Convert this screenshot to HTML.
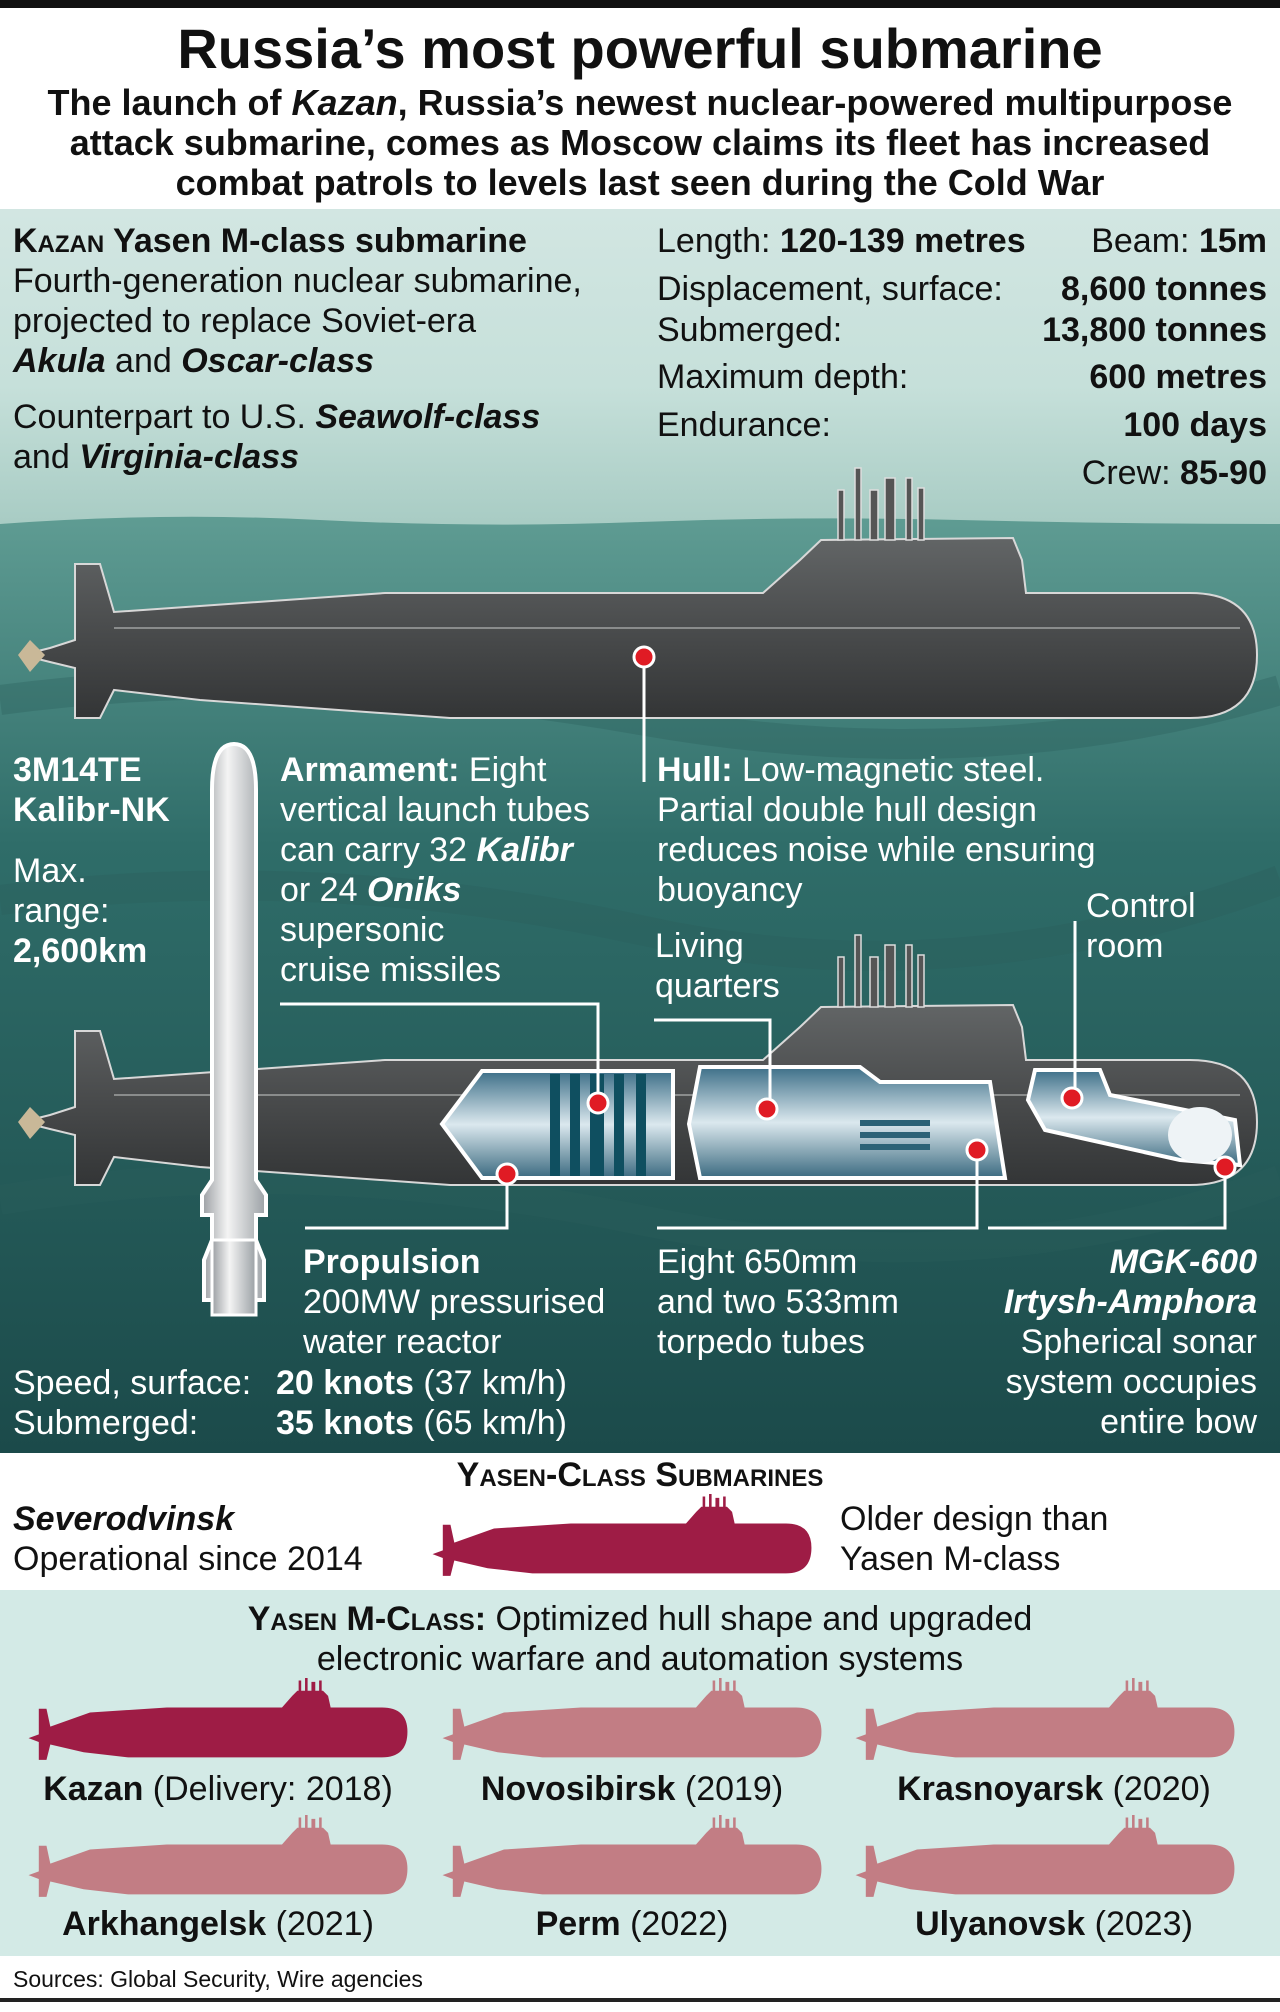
<!DOCTYPE html>
<html><head><meta charset="utf-8"><style>
*{margin:0;padding:0;box-sizing:border-box}
body{width:1280px;height:2012px;position:relative;background:#fff;font-family:"Liberation Sans Narrow","Liberation Sans",sans-serif;color:#111;overflow:hidden}
svg{position:absolute;left:0;top:0}
.t{position:absolute;font-size:34px;line-height:40px;white-space:nowrap}
.w{color:#fff}
b{font-weight:bold}
.sc{font-variant:small-caps}
</style></head><body>
<svg width="1280" height="2012" viewBox="0 0 1280 2012">
<defs>
<linearGradient id="top" x1="0" y1="0" x2="0" y2="1"><stop offset="0" stop-color="#d2e6e2"/><stop offset="0.55" stop-color="#c6e0da"/><stop offset="1" stop-color="#a7cbc3"/></linearGradient>
<linearGradient id="sea" x1="0" y1="0" x2="0" y2="1"><stop offset="0" stop-color="#5f9c93"/><stop offset="0.35" stop-color="#2f6d69"/><stop offset="1" stop-color="#1b4a4a"/></linearGradient>
<linearGradient id="hull" x1="0" y1="0" x2="0" y2="1"><stop offset="0" stop-color="#626566"/><stop offset="0.5" stop-color="#4a4c4d"/><stop offset="1" stop-color="#333536"/></linearGradient>
<linearGradient id="cut" x1="0" y1="0" x2="0" y2="1"><stop offset="0" stop-color="#3d6f88"/><stop offset="0.5" stop-color="#dbe8ee"/><stop offset="1" stop-color="#3b6a80"/></linearGradient>
<linearGradient id="mis" x1="0" y1="0" x2="1" y2="0"><stop offset="0" stop-color="#9a9ea2"/><stop offset="0.4" stop-color="#f4f4f4"/><stop offset="1" stop-color="#9aa0a4"/></linearGradient>
<g id="big">
<path d="M22,655 L50,648 L75,640 L75,564 L100,564 L114,612 L200,606 L385,593 L763,593 L800,560 L821,540 L1013,538 L1022,560 L1026,593 L1190,593 Q1257,593 1257,655 Q1257,718 1190,718 L450,718 L200,700 L114,690 L100,718 L75,718 L75,668 L50,662 Z" fill="url(#hull)" stroke="#d8d8d8" stroke-width="2"/>
<g fill="#555" stroke="#ddd" stroke-width="1.5"><rect x="838" y="490" width="6" height="50"/><rect x="855" y="468" width="6" height="72"/><rect x="870" y="490" width="8" height="50"/><rect x="885" y="478" width="10" height="62"/><rect x="906" y="478" width="6" height="62"/><rect x="918" y="488" width="6" height="52"/></g>
<line x1="114" y1="628" x2="1240" y2="628" stroke="#8a8c8c" stroke-width="2"/>
<path d="M30,640 L45,655 L30,672 L18,655 Z" fill="#c9b898"/>
</g>
<path id="sm" d="M2,47 L10,44 L10,24 L16,24 L19,38 L50,27 L110,23 L200,23 L208,14 L212,10 L232,10 L236,14 L238,23 L278,23 Q298,23 298,42 Q298,62 278,62 L80,62 L45,58 L19,52 L16,64 L10,64 L10,50 Z M213,10 L213,2 L215,2 L215,10 Z M218,10 L218,0 L220,0 L220,10 Z M223,10 L223,3 L226,3 L226,10 Z M229,10 L229,2 L231,2 L231,10 Z"/>
</defs>
<rect x="0" y="0" width="1280" height="8" fill="#111"/>
<rect x="0" y="209" width="1280" height="320" fill="url(#top)"/>
<path d="M0,524 Q160,512 320,520 T640,522 T960,520 T1280,524 L1280,1453 L0,1453 Z" fill="url(#sea)"/>
<path d="M0,700 Q300,660 640,720 T1280,690 M0,900 Q320,860 640,930 T1280,880 M0,1200 Q300,1150 640,1220 T1280,1180" stroke="#2a5f5c" stroke-width="30" fill="none" opacity="0.35"/>
<rect x="0" y="1590" width="1280" height="366" fill="#d3eae6"/>
<rect x="0" y="1998" width="1280" height="4" fill="#222"/>
<use href="#big"/>
<use href="#big" transform="translate(0,467)"/>
<!-- cutaways -->
<polygon points="482,1071 673,1071 673,1178 482,1178 442,1124" fill="url(#cut)" stroke="#fff" stroke-width="4"/>
<g fill="#0f4f60"><rect x="550" y="1074" width="10" height="102"/><rect x="570" y="1074" width="10" height="102"/><rect x="590" y="1074" width="14" height="102"/><rect x="614" y="1074" width="10" height="102"/><rect x="636" y="1074" width="10" height="102"/></g>
<polygon points="700,1067 860,1067 880,1082 990,1082 1005,1178 700,1178 689,1124" fill="url(#cut)" stroke="#fff" stroke-width="4"/>
<g fill="#2c6276"><rect x="860" y="1120" width="70" height="6"/><rect x="860" y="1132" width="70" height="6"/><rect x="860" y="1144" width="70" height="6"/></g>
<polygon points="1035,1070 1100,1070 1110,1095 1235,1120 1240,1165 1180,1160 1045,1130 1028,1100" fill="url(#cut)" stroke="#fff" stroke-width="4"/>
<ellipse cx="1200" cy="1135" rx="32" ry="28" fill="#eef3f6"/>
<!-- missile -->
<path d="M212,790 Q212,744 234,744 Q256,744 256,790 L256,1180 L266,1195 L266,1215 L256,1215 L256,1240 L264,1260 L264,1300 L204,1300 L204,1260 L212,1240 L212,1215 L202,1215 L202,1195 L212,1180 Z" fill="url(#mis)" stroke="#fff" stroke-width="4"/>
<rect x="212" y="1240" width="44" height="75" fill="url(#mis)" stroke="#fff" stroke-width="3"/>
<!-- leaders -->
<g stroke="#fff" stroke-width="3" fill="none">
<path d="M644,657 L644,782"/>
<path d="M280,1004 L598,1004 L598,1103"/>
<path d="M654,1020 L770,1020 L770,1109"/>
<path d="M1075,921 L1075,1098"/>
<path d="M507,1174 L507,1228 L305,1228"/>
<path d="M977,1150 L977,1228 L657,1228"/>
<path d="M1225,1167 L1225,1228 L988,1228"/>
</g>
<g fill="#e01b24" stroke="#fff" stroke-width="3">
<circle cx="644" cy="657" r="10"/><circle cx="598" cy="1103" r="10"/><circle cx="507" cy="1174" r="10"/><circle cx="767" cy="1109" r="10"/><circle cx="977" cy="1150" r="10"/><circle cx="1072" cy="1098" r="10"/><circle cx="1225" cy="1167" r="10"/>
</g>
<!-- silhouettes -->
<g transform="translate(430,1494) scale(1.28)"><use href="#sm" fill="#9e1c45"/></g>
<g transform="translate(26,1678) scale(1.28)"><use href="#sm" fill="#9e1c45"/></g>
<g transform="translate(440,1678) scale(1.28)"><use href="#sm" fill="#c27d84"/></g>
<g transform="translate(853,1678) scale(1.28)"><use href="#sm" fill="#c27d84"/></g>
<g transform="translate(26,1815) scale(1.28)"><use href="#sm" fill="#c27d84"/></g>
<g transform="translate(440,1815) scale(1.28)"><use href="#sm" fill="#c27d84"/></g>
<g transform="translate(853,1815) scale(1.28)"><use href="#sm" fill="#c27d84"/></g>
</svg>

<div class="t" style="left:0;width:1280px;text-align:center;top:14px;font-size:56px;line-height:70px;font-weight:bold">Russia’s most powerful submarine</div>
<div class="t" style="left:0;width:1280px;text-align:center;top:83px;font-size:36px;line-height:40px;font-weight:bold">The launch of <i>Kazan</i>, Russia’s newest nuclear-powered multipurpose<br>attack submarine, comes as Moscow claims its fleet has increased<br>combat patrols to levels last seen during the Cold War</div>

<div class="t" style="left:13px;top:221px"><b><span class="sc">Kazan</span> Yasen M-class submarine</b><br>Fourth-generation nuclear submarine,<br>projected to replace Soviet-era<br><b><i>Akula</i></b> and <b><i>Oscar-class</i></b></div>
<div class="t" style="left:13px;top:397px">Counterpart to U.S. <b><i>Seawolf-class</i></b><br>and <b><i>Virginia-class</i></b></div>

<div class="t" style="left:657px;top:221px">Length: <b>120-139 metres</b></div>
<div class="t" style="right:13px;top:221px">Beam: <b>15m</b></div>
<div class="t" style="left:657px;top:269px">Displacement, surface:</div><div class="t" style="right:13px;top:269px"><b>8,600 tonnes</b></div>
<div class="t" style="left:657px;top:310px">Submerged:</div><div class="t" style="right:13px;top:310px"><b>13,800 tonnes</b></div>
<div class="t" style="left:657px;top:357px">Maximum depth:</div><div class="t" style="right:13px;top:357px"><b>600 metres</b></div>
<div class="t" style="left:657px;top:405px">Endurance:</div><div class="t" style="right:13px;top:405px"><b>100 days</b></div>
<div class="t" style="right:13px;top:453px">Crew: <b>85-90</b></div>

<div class="t w" style="left:13px;top:750px"><b>3M14TE<br>Kalibr-NK</b></div>
<div class="t w" style="left:13px;top:851px">Max.<br>range:<br><b>2,600km</b></div>
<div class="t w" style="left:280px;top:750px"><b>Armament:</b> Eight<br>vertical launch tubes<br>can carry 32 <b><i>Kalibr</i></b><br>or 24 <b><i>Oniks</i></b><br>supersonic<br>cruise missiles</div>
<div class="t w" style="left:657px;top:750px"><b>Hull:</b> Low-magnetic steel.<br>Partial double hull design<br>reduces noise while ensuring<br>buoyancy</div>
<div class="t w" style="left:655px;top:926px">Living<br>quarters</div>
<div class="t w" style="left:1086px;top:886px">Control<br>room</div>
<div class="t w" style="left:303px;top:1242px"><b>Propulsion</b><br>200MW pressurised<br>water reactor</div>
<div class="t w" style="left:657px;top:1242px">Eight 650mm<br>and two 533mm<br>torpedo tubes</div>
<div class="t w" style="right:23px;top:1242px;text-align:right"><b><i>MGK-600<br>Irtysh-Amphora</i></b><br>Spherical sonar<br>system occupies<br>entire bow</div>
<div class="t w" style="left:13px;top:1363px">Speed, surface:<br>Submerged:</div>
<div class="t w" style="left:276px;top:1363px"><b>20 knots</b> (37 km/h)<br><b>35 knots</b> (65 km/h)</div>

<div class="t" style="left:0;width:1280px;text-align:center;top:1455px;font-weight:bold"><span class="sc">Yasen-Class Submarines</span></div>
<div class="t" style="left:13px;top:1499px"><b><i>Severodvinsk</i></b><br>Operational since 2014</div>
<div class="t" style="left:840px;top:1499px">Older design than<br>Yasen M-class</div>
<div class="t" style="left:0;width:1280px;text-align:center;top:1599px"><b class="sc">Yasen M-Class:</b> Optimized hull shape and upgraded<br>electronic warfare and automation systems</div>
<div class="t" style="left:18px;width:400px;text-align:center;top:1769px"><b>Kazan</b> (Delivery: 2018)</div>
<div class="t" style="left:432px;width:400px;text-align:center;top:1769px"><b>Novosibirsk</b> (2019)</div>
<div class="t" style="left:854px;width:400px;text-align:center;top:1769px"><b>Krasnoyarsk</b> (2020)</div>
<div class="t" style="left:18px;width:400px;text-align:center;top:1904px"><b>Arkhangelsk</b> (2021)</div>
<div class="t" style="left:432px;width:400px;text-align:center;top:1904px"><b>Perm</b> (2022)</div>
<div class="t" style="left:854px;width:400px;text-align:center;top:1904px"><b>Ulyanovsk</b> (2023)</div>
<div class="t" style="left:13px;top:1965px;font-size:23px;line-height:28px">Sources: Global Security, Wire agencies</div>
</body></html>
